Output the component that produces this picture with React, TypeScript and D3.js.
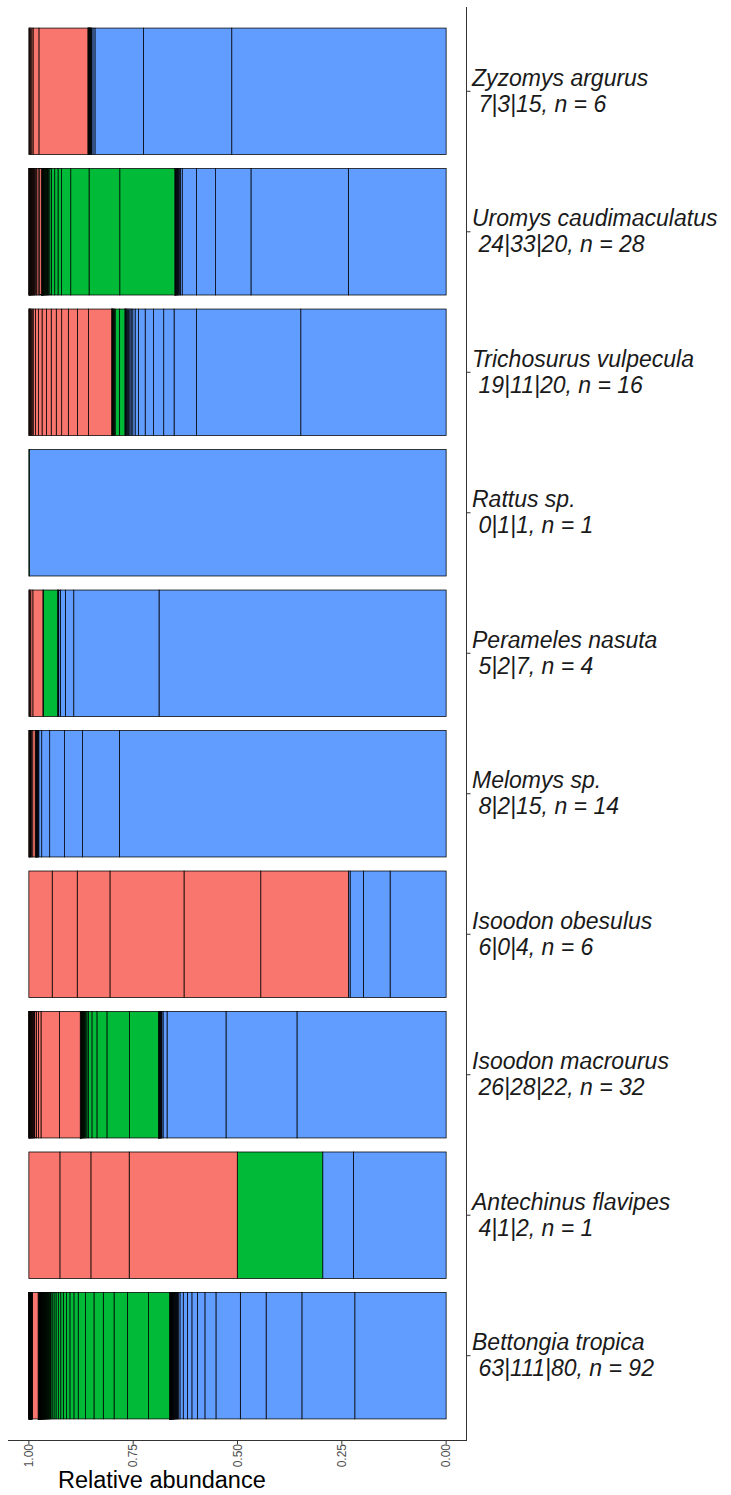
import React from "react";
import * as d3 from "d3";

// Species shown top to bottom, with their sample sizes
const speciesNames = [
  "Zyzomys argurus",
  "Uromys caudimaculatus",
  "Trichosurus vulpecula",
  "Rattus sp.",
  "Perameles nasuta",
  "Melomys sp.",
  "Isoodon obesulus",
  "Isoodon macrourus",
  "Antechinus flavipes",
  "Bettongia tropica",
];
const sampleSizes = [6, 28, 16, 1, 4, 14, 6, 32, 1, 92];

// Group colours (salmon | green | blue)
const groupKeys = ["salmon", "green", "blue"] as const;
const groupColors: Record<string, string> = {
  salmon: "#F8766D",
  green: "#00BA38",
  blue: "#619CFF",
};

// Relative abundance of each taxon, largest first, per group
const zyzomys = {
  salmon: [0.117, 0.014, 0.003, 0.0025, 0.002, 0.0015, 0.001],
  green: [0.0012, 0.0008, 0.0005],
  blue: [0.5125, 0.211, 0.116, 0.0048, 0.003, 0.0012, 0.001, 0.0009, 0.0008, 0.0007, 0.0006, 0.0005, 0.0004, 0.0003, 0.0002],
};
const uromys = {
  salmon: [0.0045, 0.004, 0.0035, 0.003, 0.0016, 0.0014, 0.0013, 0.0012, 0.0011, 0.001, 0.0009, 0.0009, 0.0008, 0.0007, 0.0007, 0.0006, 0.0006, 0.0005, 0.0005, 0.0004, 0.0004, 0.0003, 0.0003, 0.0002],
  green: [0.1319, 0.0736, 0.0439, 0.0223, 0.0082, 0.0079, 0.0079, 0.004, 0.003, 0.0018, 0.0015, 0.0013, 0.0012, 0.0011, 0.001, 0.0009, 0.0008, 0.0008, 0.0007, 0.0007, 0.0006, 0.0006, 0.0005, 0.0005, 0.0004, 0.0004, 0.0004, 0.0003, 0.0003, 0.0003, 0.0002, 0.0002, 0.0001],
  blue: [0.2343, 0.2333, 0.0847, 0.0456, 0.0345, 0.004, 0.003, 0.002, 0.0015, 0.0012, 0.001, 0.0009, 0.0008, 0.0007, 0.0006, 0.0005, 0.0005, 0.0004, 0.0003, 0.0002],
};
const trichosurus = {
  salmon: [0.0552, 0.0264, 0.0216, 0.0158, 0.0129, 0.012, 0.0115, 0.0103, 0.0082, 0.0075, 0.0055, 0.0025, 0.002, 0.0016, 0.0013, 0.001, 0.0008, 0.0006, 0.0004],
  green: [0.0127, 0.0105, 0.0018, 0.0015, 0.0012, 0.001, 0.0008, 0.0007, 0.0005, 0.0004, 0.0003],
  blue: [0.346, 0.248, 0.0535, 0.0247, 0.024, 0.0201, 0.0158, 0.0082, 0.0055, 0.004, 0.003, 0.0025, 0.002, 0.0018, 0.0015, 0.0012, 0.001, 0.0008, 0.0006, 0.0004],
};
const rattus = {
  salmon: [] as number[],
  green: [0.001],
  blue: [0.999],
};
const perameles = {
  salmon: [0.024, 0.005, 0.002, 0.0015, 0.001],
  green: [0.0343, 0.001],
  blue: [0.686, 0.2038, 0.0199, 0.012, 0.004, 0.0015, 0.001],
};
const melomys = {
  salmon: [0.006, 0.003, 0.002, 0.0015, 0.001, 0.0008, 0.0006, 0.0004],
  green: [0.001, 0.0006],
  blue: [0.7866, 0.0887, 0.0432, 0.036, 0.0192, 0.007, 0.0015, 0.0012, 0.001, 0.0008, 0.0007, 0.0006, 0.0005, 0.0004, 0.0003],
};
const isoodonObesulus = {
  salmon: [0.2101, 0.1839, 0.1775, 0.0784, 0.06, 0.0559],
  green: [] as number[],
  blue: [0.1343, 0.064, 0.0319, 0.004],
};
const isoodonMacrourus = {
  salmon: [0.0496, 0.0446, 0.006, 0.005, 0.004, 0.0015, 0.0013, 0.0012, 0.0011, 0.001, 0.0009, 0.0008, 0.0008, 0.0007, 0.0007, 0.0006, 0.0006, 0.0005, 0.0005, 0.0004, 0.0004, 0.0003, 0.0003, 0.0002, 0.0002, 0.0001],
  green: [0.0695, 0.0542, 0.024, 0.012, 0.008, 0.004, 0.0025, 0.002, 0.0016, 0.0013, 0.0011, 0.001, 0.0009, 0.0008, 0.0007, 0.0006, 0.0005, 0.0005, 0.0004, 0.0004, 0.0003, 0.0003, 0.0003, 0.0002, 0.0002, 0.0002, 0.0001, 0.0001],
  blue: [0.358, 0.1703, 0.1415, 0.0096, 0.003, 0.001, 0.0009, 0.0008, 0.0007, 0.0006, 0.0006, 0.0005, 0.0005, 0.0004, 0.0004, 0.0003, 0.0003, 0.0003, 0.0002, 0.0002, 0.0002, 0.0001],
};
const antechinus = {
  salmon: [0.259, 0.0918, 0.0743, 0.0743],
  green: [0.2048],
  blue: [0.2223, 0.0734],
};
const bettongia = {
  salmon: [
    0.0134,
    0.0005, 0.0004, 0.0004, 0.0003, 0.0003, 0.0003, 0.0002, 0.0002, 0.0002, 0.0002,
    0.0002, 0.0002, 0.0002, 0.0002, 0.0002, 0.0001, 0.0001, 0.0001, 0.0001, 0.0001,
    0.0001, 0.0001, 0.0001, 0.0001, 0.0001, 0.0001, 0.0001, 0.0001, 0.0001, 0.0001,
    0.0001, 0.0001, 0.0001, 0.0001, 0.0001, 0.0001, 0.0001, 0.0001, 0.0001, 0.0001,
    0.0001, 0.0001, 0.0001, 0.0001, 0.0001, 0.0001, 0.0001, 0.0001, 0.0001, 0.0001,
    0.0001, 0.0001, 0.0001, 0.0001, 0.0001, 0.0001, 0.0001, 0.0001, 0.0001, 0.0001,
    0.0001, 0.0001,
  ],
  green: [
    0.0504, 0.0504, 0.0319, 0.0257, 0.0223, 0.0199, 0.0177, 0.0103, 0.0096, 0.0079,
    0.0078, 0.0062, 0.0058, 0.0055, 0.0048, 0.0045, 0.003,
    0.0016, 0.0014, 0.0012, 0.0011, 0.001, 0.0009, 0.0009, 0.0008, 0.0008, 0.0007,
    0.0006, 0.0006, 0.0006, 0.0005, 0.0005, 0.0005, 0.0005, 0.0005, 0.0004, 0.0004,
    0.0004, 0.0004, 0.0004, 0.0004, 0.0004, 0.0004, 0.0003, 0.0003, 0.0003, 0.0003,
    0.0003, 0.0003, 0.0003, 0.0003, 0.0003, 0.0003, 0.0003, 0.0003, 0.0003, 0.0003,
    0.0003, 0.0003, 0.0003, 0.0003, 0.0002, 0.0002, 0.0002, 0.0002, 0.0002, 0.0002,
    0.0002, 0.0002, 0.0002, 0.0002, 0.0002, 0.0002, 0.0002, 0.0002, 0.0002, 0.0002,
    0.0002, 0.0002, 0.0002, 0.0002, 0.0002, 0.0001, 0.0001, 0.0001, 0.0001, 0.0001,
    0.0001, 0.0001, 0.0001, 0.0001, 0.0001, 0.0001, 0.0001, 0.0001, 0.0001, 0.0001,
    0.0001, 0.0001, 0.0001, 0.0001, 0.0001, 0.0001, 0.0001, 0.0001, 0.0001, 0.0001,
    0.0001, 0.0001, 0.0001, 0.0001,
  ],
  blue: [
    0.2182, 0.1264, 0.0854, 0.0616, 0.0583, 0.0264, 0.0177, 0.0134, 0.0106, 0.01,
    0.0079, 0.004,
    0.0014, 0.0013, 0.0012, 0.0011, 0.001, 0.0009, 0.0008, 0.0007, 0.0007, 0.0006,
    0.0005, 0.0005, 0.0005, 0.0004, 0.0004, 0.0004, 0.0004, 0.0003, 0.0003, 0.0003,
    0.0003, 0.0003, 0.0003, 0.0003, 0.0002, 0.0002, 0.0002, 0.0002, 0.0002, 0.0002,
    0.0002, 0.0002, 0.0002, 0.0002, 0.0002, 0.0002, 0.0002, 0.0002, 0.0001, 0.0001,
    0.0001, 0.0001, 0.0001, 0.0001, 0.0001, 0.0001, 0.0001, 0.0001, 0.0001, 0.0001,
    0.0001, 0.0001, 0.0001, 0.0001, 0.0001, 0.0001, 0.0001, 0.0001, 0.0001, 0.0001,
    0.0001, 0.0001, 0.0001, 0.0001, 0.0001, 0.0001, 0.0001, 0.0001,
  ],
};

const speciesData = [
  zyzomys, uromys, trichosurus, rattus, perameles,
  melomys, isoodonObesulus, isoodonMacrourus, antechinus, bettongia,
];

const xTicks = [1, 0.75, 0.5, 0.25, 0];

const W = 731;
const H = 1495;
const panel = { left: 8, right: 467, top: 7, bottom: 1440 };

type Seg = { key: string; x0: number; x1: number; i: number };

export default function App() {
  // Abundance axis runs from 1 on the left to 0 on the right (5% expansion)
  const x = d3.scaleLinear().domain([1.05, -0.05]).range([panel.left, panel.right]);
  const y = d3
    .scaleBand<string>()
    .domain(speciesNames)
    .range([panel.top, panel.bottom])
    .paddingInner(0.1)
    .paddingOuter(0.15);

  const font = "'Liberation Sans', Arial, Helvetica, sans-serif";

  // Stack each bar from 0: blue, then green, then salmon; normalise to 1
  const stacked: Seg[][] = speciesData.map((d) => {
    const total = d3.sum(groupKeys.flatMap((k) => d[k]));
    const order = ["blue", "green", "salmon"];
    const segs: Seg[] = [];
    let cum = 0;
    order.forEach((k) => {
      (d as any)[k].forEach((v: number, i: number) => {
        segs.push({ key: k, x0: cum / total, x1: (cum + v) / total, i });
        cum += v;
      });
    });
    return segs;
  });

  return (
    <svg
      width={W}
      height={H}
      style={{ position: "absolute", left: 0, top: 0, background: "#fff" }}
      fontFamily={font}
    >
      <rect width={W} height={H} fill="#fff" />
      {stacked.map((segs, si) => {
        const name = speciesNames[si];
        const y0 = y(name)!;
        return (
          <g key={name}>
            {segs.map((s, j) => (
              <rect
                key={j}
                x={x(s.x1)}
                y={y0}
                width={Math.max(0, x(s.x0) - x(s.x1))}
                height={y.bandwidth()}
                fill={groupColors[s.key]}
                stroke="#000"
                strokeWidth={0.75}
              />
            ))}
          </g>
        );
      })}

      {/* axis lines: bottom and right */}
      <line x1={panel.left} x2={panel.right} y1={panel.bottom + 0.5} y2={panel.bottom + 0.5} stroke="#333" strokeWidth={1} />
      <line x1={panel.right - 0.5} x2={panel.right - 0.5} y1={panel.top} y2={panel.bottom + 1} stroke="#333" strokeWidth={1} />

      {/* abundance ticks and rotated labels */}
      {xTicks.map((t) => (
        <g key={t}>
          <line x1={x(t)} x2={x(t)} y1={panel.bottom + 1} y2={panel.bottom + 4.5} stroke="#333" strokeWidth={1} />
          <text
            transform={`translate(${x(t)},${panel.bottom + 4}) rotate(-90)`}
            textAnchor="end"
            dominantBaseline="central"
            fontSize={12}
            fill="#4D4D4D"
          >
            {d3.format(".2f")(t)}
          </text>
        </g>
      ))}
      <text x={58} y={1488} fontSize={23.5} fill="#000">
        Relative abundance
      </text>

      {/* species labels on the right: name, then group counts and n */}
      {speciesNames.map((name, si) => {
        const cy = y(name)! + y.bandwidth() / 2;
        const d = speciesData[si];
        const counts = `${d.salmon.length}|${d.green.length}|${d.blue.length}, n = ${sampleSizes[si]}`;
        return (
          <g key={name}>
            <line x1={panel.right - 0.5} x2={panel.right + 3.5} y1={cy} y2={cy} stroke="#333" strokeWidth={1} />
            <text y={cy - 5.7} fontSize={23} fontStyle="italic" fill="#1a1a1a">
              <tspan x={472}>{name}</tspan>
              <tspan x={478.5} dy={26}>{counts}</tspan>
            </text>
          </g>
        );
      })}
    </svg>
  );
}
